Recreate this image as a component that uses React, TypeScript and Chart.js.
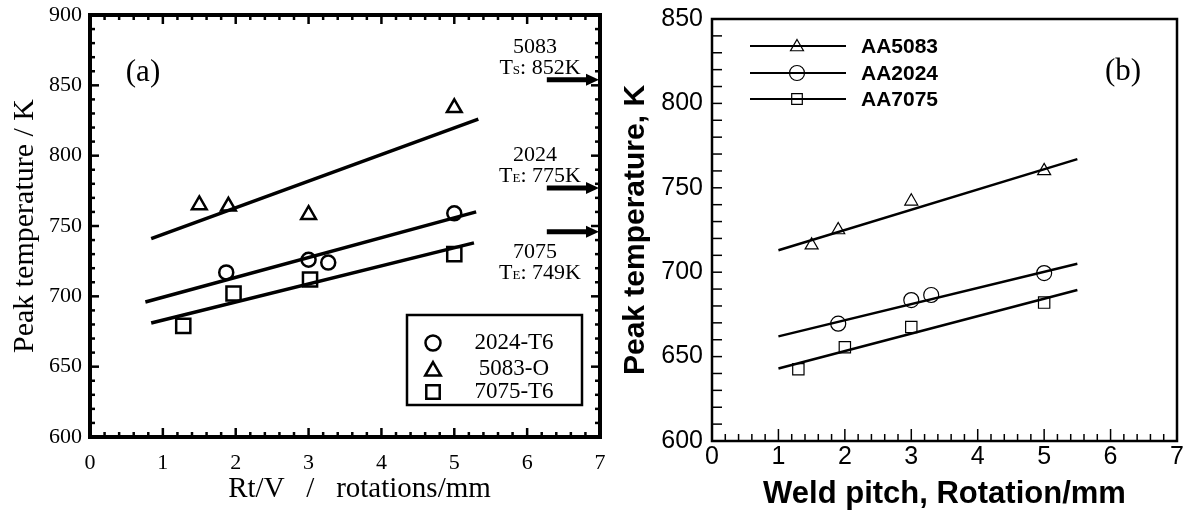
import React, { useEffect, useRef } from 'react';
import { Chart, registerables } from 'chart.js';

Chart.register(...registerables);

// ---------- Panel (a) data ----------
const A_X_MIN = 0;
const A_X_MAX = 7;
const A_Y_MIN = 600;
const A_Y_MAX = 900;
const A_SERIES = ['2024-T6', '5083-O', '7075-T6'];
const A_2024_X = [1.87, 3.0, 3.27, 5.0];
const A_2024_Y = [717, 726, 724, 759];
const A_5083_X = [1.5, 1.9, 3.0, 5.0];
const A_5083_Y = [765, 764, 758, 834];
const A_7075_X = [1.28, 1.97, 3.02, 5.0];
const A_7075_Y = [679, 702, 712, 730];
const A_FIT_2024_X = [0.76, 5.3];
const A_FIT_2024_Y = [696, 760];
const A_FIT_5083_X = [0.84, 5.33];
const A_FIT_5083_Y = [741, 826];
const A_FIT_7075_X = [0.84, 5.27];
const A_FIT_7075_Y = [681, 738];
const A_LIMIT_ALLOY = ['5083', '2024', '7075'];
const A_LIMIT_SUB = ['S', 'E', 'E'];
const A_LIMIT_VALUE = ['852K', '775K', '749K'];
const A_ARROW_Y = [854, 777, 746];
const A_ARROW_X = [6.27, 7.0];

// ---------- Panel (b) data ----------
const B_X_MIN = 0;
const B_X_MAX = 7;
const B_Y_MIN = 600;
const B_Y_MAX = 850;
const B_SERIES = ['AA5083', 'AA2024', 'AA7075'];
const B_5083_X = [1.5, 1.9, 3.0, 5.0];
const B_5083_Y = [716, 725, 742, 760];
const B_2024_X = [1.9, 3.0, 3.3, 5.0];
const B_2024_Y = [669.5, 683.5, 686.5, 699.5];
const B_7075_X = [1.3, 2.0, 3.0, 5.0];
const B_7075_Y = [642.5, 655.5, 667.5, 682];
const B_FIT_X = [1.0, 5.5];
const B_FIT_5083_Y = [713, 767];
const B_FIT_2024_Y = [662, 705];
const B_FIT_7075_Y = [643, 689.5];

const SERIF = "'Liberation Serif', 'Times New Roman', serif";
const SANS = "'Liberation Sans', Arial, sans-serif";

const A_W = 626;
const B_LEFT = 606;
const B_W = 587;

const zip = (xs: number[], ys: number[]) => xs.map((x, i) => ({ x, y: ys[i] }));

function drawMarker(ctx: CanvasRenderingContext2D, style: string, x: number, y: number, r: number) {
  ctx.beginPath();
  if (style === 'circle') {
    ctx.arc(x, y, r, 0, Math.PI * 2);
  } else if (style === 'triangle') {
    ctx.moveTo(x, y - r);
    ctx.lineTo(x + r * 0.866, y + r * 0.5);
    ctx.lineTo(x - r * 0.866, y + r * 0.5);
    ctx.closePath();
  } else {
    const s = r * Math.SQRT1_2;
    ctx.rect(x - s, y - s, 2 * s, 2 * s);
  }
  ctx.stroke();
}

const scatterDs = (label: string, xs: number[], ys: number[], style: string, r: number, bw: number) => ({
  label,
  data: zip(xs, ys),
  pointStyle: style,
  pointRadius: r,
  pointBorderWidth: bw,
  pointBorderColor: '#000',
  pointBackgroundColor: 'rgba(0,0,0,0)',
  showLine: false,
});

const fitDs = (xs: number[], ys: number[], w: number) => ({
  label: 'fit',
  data: zip(xs, ys),
  showLine: true,
  borderColor: '#000',
  borderWidth: w,
  pointRadius: 0,
  fill: false,
});

const fixX = (h: number) => (s: any) => {
  s.height = h;
  s.paddingLeft = 0;
  s.paddingRight = 0;
};
const fixY = (w: number) => (s: any) => {
  s.width = w;
  s.paddingTop = 0;
  s.paddingBottom = 0;
};

// ---------- Panel (a) plugin ----------
const frameA = {
  id: 'frameA',
  afterDatasetsDraw(chart: any) {
    const { ctx, chartArea: ca, scales } = chart;
    const x = scales.x;
    const y = scales.y;
    ctx.save();
    ctx.strokeStyle = '#000';
    ctx.fillStyle = '#000';
    ctx.lineWidth = 2.5;
    ctx.lineCap = 'butt';
    const seg = (x1: number, y1: number, x2: number, y2: number) => {
      ctx.beginPath();
      ctx.moveTo(x1, y1);
      ctx.lineTo(x2, y2);
      ctx.stroke();
    };
    for (let i = 0; i <= 35; i++) {
      const v = i * 0.2;
      const px = x.getPixelForValue(v);
      const L = i % 5 === 0 ? 9 : 5;
      seg(px, ca.bottom, px, ca.bottom - L);
      seg(px, ca.top, px, ca.top + L);
    }
    for (let i = 0; i <= 30; i++) {
      const v = A_Y_MIN + i * 10;
      const py = y.getPixelForValue(v);
      const L = i % 5 === 0 ? 9 : 5;
      seg(ca.left, py, ca.left + L, py);
      seg(ca.right, py, ca.right - L, py);
    }
    ctx.lineWidth = 4;
    ctx.strokeRect(ca.left, ca.top, ca.right - ca.left, ca.bottom - ca.top);

    // (a) label
    ctx.font = `31px ${SERIF}`;
    ctx.textAlign = 'center';
    ctx.textBaseline = 'middle';
    ctx.fillText('(a)', 143, 73);

    // arrows + limit labels
    const textCenters = [[47.5, 66], [155, 174], [252, 271]];
    for (let k = 0; k < 3; k++) {
      const py = y.getPixelForValue(A_ARROW_Y[k]);
      const x0 = x.getPixelForValue(A_ARROW_X[0]);
      const x1 = x.getPixelForValue(A_ARROW_X[1]) - 1;
      ctx.lineWidth = 5;
      seg(x0, py, x1 - 11, py);
      ctx.beginPath();
      ctx.moveTo(x1, py);
      ctx.lineTo(x1 - 13, py - 6);
      ctx.lineTo(x1 - 13, py + 6);
      ctx.closePath();
      ctx.fill();

      ctx.font = `22px ${SERIF}`;
      ctx.textAlign = 'center';
      ctx.textBaseline = 'middle';
      ctx.fillText(A_LIMIT_ALLOY[k], 535, textCenters[k][0]);
      const big = `22px ${SERIF}`;
      const small = `13px ${SERIF}`;
      const rest = `: ${A_LIMIT_VALUE[k]}`;
      ctx.font = big;
      const wT = ctx.measureText('T').width;
      const wR = ctx.measureText(rest).width;
      ctx.font = small;
      const wS = ctx.measureText(A_LIMIT_SUB[k]).width;
      const total = wT + wS + wR;
      let cx = 540 - total / 2;
      ctx.textAlign = 'left';
      ctx.textBaseline = 'alphabetic';
      const base = textCenters[k][1] + 7.5;
      ctx.font = big;
      ctx.fillText('T', cx, base);
      cx += wT;
      ctx.font = small;
      ctx.fillText(A_LIMIT_SUB[k], cx, base);
      cx += wS;
      ctx.font = big;
      ctx.fillText(rest, cx, base);
    }

    // legend box
    ctx.lineWidth = 2.5;
    ctx.strokeRect(407, 315, 175, 90);
    const styles = ['circle', 'triangle', 'rect'];
    const radii = [7.5, 9, 9.5];
    const rows = [343, 369, 392];
    ctx.font = `23px ${SERIF}`;
    ctx.textAlign = 'center';
    ctx.textBaseline = 'middle';
    for (let k = 0; k < 3; k++) {
      ctx.lineWidth = 2.5;
      drawMarker(ctx, styles[k], 433, rows[k] + (styles[k] === 'triangle' ? 2 : 0), radii[k]);
      ctx.fillText(A_SERIES[k], 514, rows[k]);
    }
    ctx.restore();
  },
};

// ---------- Panel (b) plugin ----------
const frameB = {
  id: 'frameB',
  afterDatasetsDraw(chart: any) {
    const { ctx, chartArea: ca, scales } = chart;
    const x = scales.x;
    const y = scales.y;
    ctx.save();
    ctx.strokeStyle = '#000';
    ctx.fillStyle = '#000';
    const seg = (x1: number, y1: number, x2: number, y2: number) => {
      ctx.beginPath();
      ctx.moveTo(x1, y1);
      ctx.lineTo(x2, y2);
      ctx.stroke();
    };
    ctx.lineWidth = 1.5;
    for (let i = 0; i <= 35; i++) {
      const v = i * 0.2;
      const px = x.getPixelForValue(v);
      const L = i % 5 === 0 ? 12 : 7;
      seg(px, ca.bottom, px, ca.bottom - L);
    }
    for (let i = 0; i <= 25; i++) {
      const v = B_Y_MIN + i * 10;
      const py = y.getPixelForValue(v);
      seg(ca.left, py, ca.left + 10, py);
    }
    ctx.lineWidth = 2.5;
    ctx.strokeRect(ca.left, ca.top, ca.right - ca.left, ca.bottom - ca.top);

    // (b) label
    ctx.font = `31px ${SERIF}`;
    ctx.textAlign = 'center';
    ctx.textBaseline = 'middle';
    ctx.fillText('(b)', 1123 - B_LEFT, 72);

    // legend
    const styles = ['triangle', 'circle', 'rect'];
    const radii = [7.5, 7.5, 7.5];
    const rows = [46, 73, 99];
    ctx.font = `bold 21px ${SANS}`;
    ctx.textAlign = 'left';
    for (let k = 0; k < 3; k++) {
      ctx.lineWidth = 2;
      seg(750 - B_LEFT, rows[k], 846 - B_LEFT, rows[k]);
      ctx.lineWidth = 1.2;
      const my = rows[k] + (styles[k] === 'triangle' ? 1 : 0);
      drawMarker(ctx, styles[k], 797 - B_LEFT, my, radii[k]);
      ctx.fillText(B_SERIES[k], 861 - B_LEFT, rows[k] + 1);
    }
    ctx.restore();
  },
};

function makeConfigA(): any {
  return {
    type: 'scatter',
    data: {
      datasets: [
        fitDs(A_FIT_5083_X, A_FIT_5083_Y, 3.5),
        fitDs(A_FIT_2024_X, A_FIT_2024_Y, 3.5),
        fitDs(A_FIT_7075_X, A_FIT_7075_Y, 3.5),
        scatterDs(A_SERIES[0], A_2024_X, A_2024_Y, 'circle', 7, 2.5),
        scatterDs(A_SERIES[1], A_5083_X, A_5083_Y, 'triangle', 8.5, 2.5),
        scatterDs(A_SERIES[2], A_7075_X, A_7075_Y, 'rect', 10, 2.5),
      ],
    },
    options: {
      responsive: false,
      animation: false,
      layout: { padding: { left: 0, right: A_W - 600, top: 15, bottom: 0 } },
      plugins: { legend: { display: false }, tooltip: { enabled: false } },
      scales: {
        x: {
          type: 'linear',
          min: A_X_MIN,
          max: A_X_MAX,
          afterFit: fixX(82),
          grid: { display: false, drawTicks: false },
          border: { display: false },
          ticks: { stepSize: 1, color: '#000', padding: 13, font: { family: SERIF, size: 22 } },
          title: {
            display: true,
            text: '    Rt/V   /   rotations/mm',
            color: '#000',
            font: { family: SERIF, size: 29 },
            padding: { top: 0, bottom: 12 },
          },
        },
        y: {
          type: 'linear',
          min: A_Y_MIN,
          max: A_Y_MAX,
          afterFit: fixY(90),
          grid: { display: false, drawTicks: false },
          border: { display: false },
          ticks: { stepSize: 50, color: '#000', padding: 8, font: { family: SERIF, size: 22 } },
          title: {
            display: true,
            text: 'Peak temperature / K',
            color: '#000',
            font: { family: SERIF, size: 30 },
            padding: { top: 7, bottom: 0 },
          },
        },
      },
    },
    plugins: [frameA],
  };
}

function makeConfigB(): any {
  return {
    type: 'scatter',
    data: {
      datasets: [
        fitDs(B_FIT_X, B_FIT_5083_Y, 2.5),
        fitDs(B_FIT_X, B_FIT_2024_Y, 2.5),
        fitDs(B_FIT_X, B_FIT_7075_Y, 2.5),
        scatterDs(B_SERIES[0], B_5083_X, B_5083_Y, 'triangle', 7.5, 1.2),
        scatterDs(B_SERIES[1], B_2024_X, B_2024_Y, 'circle', 7.5, 1.2),
        scatterDs(B_SERIES[2], B_7075_X, B_7075_Y, 'rect', 8, 1.2),
      ],
    },
    options: {
      responsive: false,
      animation: false,
      layout: { padding: { left: 0, right: 16, top: 19, bottom: 0 } },
      plugins: { legend: { display: false }, tooltip: { enabled: false } },
      scales: {
        x: {
          type: 'linear',
          min: B_X_MIN,
          max: B_X_MAX,
          afterFit: fixX(78),
          grid: { display: false, drawTicks: false },
          border: { display: false },
          ticks: { stepSize: 1, color: '#000', padding: 1, font: { family: SANS, size: 25 } },
          title: {
            display: true,
            text: 'Weld pitch, Rotation/mm',
            color: '#000',
            font: { family: SANS, size: 31, weight: 'bold' },
            padding: { top: 0, bottom: 6 },
          },
        },
        y: {
          type: 'linear',
          min: B_Y_MIN,
          max: B_Y_MAX,
          afterFit: fixY(106),
          grid: { display: false, drawTicks: false },
          border: { display: false },
          ticks: { stepSize: 50, color: '#000', padding: 9, font: { family: SANS, size: 25 } },
          title: {
            display: true,
            text: 'Peak temperature, K',
            color: '#000',
            font: { family: SANS, size: 30, weight: 'bold' },
            padding: { top: 12, bottom: 0 },
          },
        },
      },
    },
    plugins: [frameB],
  };
}

function ChartCanvas({ left, width, height, make, z }: { left: number; width: number; height: number; make: () => any; z: number }) {
  const ref = useRef<HTMLCanvasElement | null>(null);
  useEffect(() => {
    if (!ref.current) return;
    const chart = new Chart(ref.current, make());
    return () => chart.destroy();
  }, []);
  return (
    <canvas
      ref={ref}
      width={width}
      height={height}
      style={{ position: 'absolute', left, top: 0, width, height, zIndex: z }}
    />
  );
}

export default function App() {
  return (
    <div style={{ position: 'fixed', left: 0, top: 0, width: 1193, height: 519, background: '#fff', overflow: 'hidden' }}>
      <ChartCanvas left={0} width={A_W} height={519} make={makeConfigA} z={1} />
      <ChartCanvas left={B_LEFT} width={B_W} height={519} make={makeConfigB} z={2} />
    </div>
  );
}
